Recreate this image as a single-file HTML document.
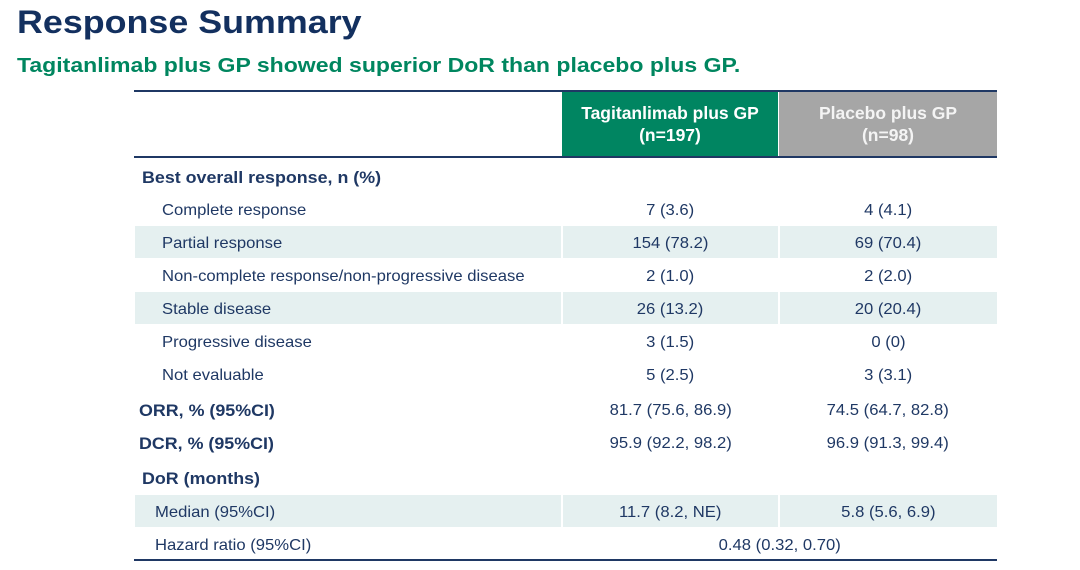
<!DOCTYPE html>
<html>
<head>
<meta charset="utf-8">
<style>
  html, body { margin:0; padding:0; }
  body { width:1080px; height:570px; position:relative; background:#ffffff; overflow:hidden;
         font-family:"Liberation Sans", Arial, sans-serif; color:#1f3864; }
  .abs { position:absolute; white-space:nowrap; }
  .sx { display:inline-block; transform-origin:left center; }
  .sc { display:inline-block; transform-origin:center center; }
  .title { left:17px; top:6px; font-size:32px; line-height:32px; font-weight:bold; color:#13305f; }
  .title .sx { transform:scaleX(1.12); }
  .sub { left:17px; top:56px; font-size:20px; line-height:20px; font-weight:bold; color:#00865f; }
  .sub .sx { transform:scaleX(1.152); }
  .line { position:absolute; left:134px; width:863px; height:2px; background:#1f3864; }
  .hdr { position:absolute; top:92px; height:64px; color:#ffffff; font-weight:bold; font-size:17.5px;
         line-height:22px; text-align:center; }
  .hdr .in { position:absolute; left:0; right:0; top:10px; }
  .shade { position:absolute; height:32px; background:#e5f0f0; }
  .lbl { position:absolute; height:32px; line-height:32px; font-size:16px; white-space:nowrap; }
  .lbl .sx { transform:scaleX(1.04); }
  .b { font-weight:bold; font-size:17px; }
  .b .sx { transform:scaleX(1.05); }
  .val { position:absolute; height:32px; line-height:32px; font-size:16px; text-align:center; white-space:nowrap; }
  .val .sc { transform:scaleX(1.04); }
  .c1 { left:562px; width:217px; }
  .c2 { left:779px; width:218px; }
</style>
</head>
<body>
  <div class="abs title"><span class="sx">Response Summary</span></div>
  <div class="abs sub"><span class="sx">Tagitanlimab plus GP showed superior DoR than placebo plus GP.</span></div>

  <!-- header -->
  <div class="line" style="top:90px;"></div>
  <div class="hdr" style="left:562px; width:216px; background:#008561;">
    <div class="in">Tagitanlimab plus GP<br>(n=197)</div>
  </div>
  <div class="hdr" style="left:779px; width:218px; background:#a6a6a6; color:#f4f4f4;">
    <div class="in">Placebo plus GP<br>(n=98)</div>
  </div>
  <div class="line" style="top:156px;"></div>

  <!-- shaded rows -->
  <div class="shade" style="top:226px; left:135px; width:426px;"></div>
  <div class="shade" style="top:226px; left:563px; width:215px;"></div>
  <div class="shade" style="top:226px; left:780px; width:217px;"></div>

  <div class="shade" style="top:292px; left:135px; width:426px;"></div>
  <div class="shade" style="top:292px; left:563px; width:215px;"></div>
  <div class="shade" style="top:292px; left:780px; width:217px;"></div>

  <div class="shade" style="top:495px; left:135px; width:426px;"></div>
  <div class="shade" style="top:495px; left:563px; width:215px;"></div>
  <div class="shade" style="top:495px; left:780px; width:217px;"></div>

  <!-- labels -->
  <div class="lbl b" style="left:142px; top:162px;"><span class="sx">Best overall response, n (%)</span></div>
  <div class="lbl" style="left:162px; top:195px;"><span class="sx">Complete response</span></div>
  <div class="lbl" style="left:162px; top:228px;"><span class="sx">Partial response</span></div>
  <div class="lbl" style="left:162px; top:261px;"><span class="sx">Non-complete response/non-progressive disease</span></div>
  <div class="lbl" style="left:162px; top:294px;"><span class="sx">Stable disease</span></div>
  <div class="lbl" style="left:162px; top:327px;"><span class="sx">Progressive disease</span></div>
  <div class="lbl" style="left:162px; top:360px;"><span class="sx">Not evaluable</span></div>
  <div class="lbl b" style="left:139px; top:395px;"><span class="sx">ORR, % (95%CI)</span></div>
  <div class="lbl b" style="left:139px; top:428px;"><span class="sx">DCR, % (95%CI)</span></div>
  <div class="lbl b" style="left:142px; top:463px;"><span class="sx">DoR (months)</span></div>
  <div class="lbl" style="left:155px; top:497px;"><span class="sx">Median (95%CI)</span></div>
  <div class="lbl" style="left:155px; top:530px;"><span class="sx">Hazard ratio (95%CI)</span></div>

  <!-- values col 1 -->
  <div class="val c1" style="top:195px;"><span class="sc">7 (3.6)</span></div>
  <div class="val c1" style="top:228px;"><span class="sc">154 (78.2)</span></div>
  <div class="val c1" style="top:261px;"><span class="sc">2 (1.0)</span></div>
  <div class="val c1" style="top:294px;"><span class="sc">26 (13.2)</span></div>
  <div class="val c1" style="top:327px;"><span class="sc">3 (1.5)</span></div>
  <div class="val c1" style="top:360px;"><span class="sc">5 (2.5)</span></div>
  <div class="val c1" style="top:395px;"><span class="sc">81.7 (75.6, 86.9)</span></div>
  <div class="val c1" style="top:428px;"><span class="sc">95.9 (92.2, 98.2)</span></div>
  <div class="val c1" style="top:497px;"><span class="sc">11.7 (8.2, NE)</span></div>

  <!-- values col 2 -->
  <div class="val c2" style="top:195px;"><span class="sc">4 (4.1)</span></div>
  <div class="val c2" style="top:228px;"><span class="sc">69 (70.4)</span></div>
  <div class="val c2" style="top:261px;"><span class="sc">2 (2.0)</span></div>
  <div class="val c2" style="top:294px;"><span class="sc">20 (20.4)</span></div>
  <div class="val c2" style="top:327px;"><span class="sc">0 (0)</span></div>
  <div class="val c2" style="top:360px;"><span class="sc">3 (3.1)</span></div>
  <div class="val c2" style="top:395px;"><span class="sc">74.5 (64.7, 82.8)</span></div>
  <div class="val c2" style="top:428px;"><span class="sc">96.9 (91.3, 99.4)</span></div>
  <div class="val c2" style="top:497px;"><span class="sc">5.8 (5.6, 6.9)</span></div>

  <!-- hazard ratio spanning -->
  <div class="val" style="left:562px; width:435px; top:530px;"><span class="sc">0.48 (0.32, 0.70)</span></div>

  <div class="line" style="top:559px;"></div>
</body>
</html>
